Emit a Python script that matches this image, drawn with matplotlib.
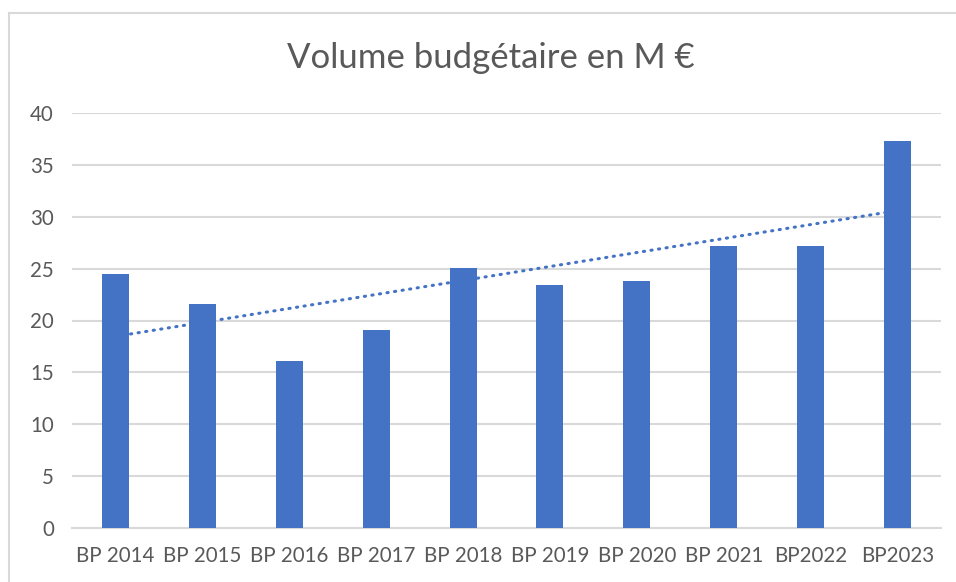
import numpy as np
import matplotlib
matplotlib.use("Agg")
import matplotlib.pyplot as plt
from matplotlib.lines import Line2D

plt.rcParams['font.family'] = ['Lato', 'DejaVu Sans']

# donnees
labels = ["BP 2014", "BP 2015", "BP 2016", "BP 2017", "BP 2018",
          "BP 2019", "BP 2020", "BP 2021", "BP2022", "BP2023"]
volume = [24.5, 21.6, 16.1, 19.1, 25.1, 23.4, 23.8, 27.2, 27.2, 37.3]
titre = "Volume budgétaire en M €"

bleu = '#4472C4'
gris = '#D9D9D9'
texte = '#595959'

fig = plt.figure(figsize=(9.56, 5.82), dpi=100)
ax = fig.add_axes([72/956, 1-528/582, 869/956, 415/582])

x = np.arange(len(volume))
ax.bar(x, volume, width=0.31, color=bleu, zorder=3)

# courbe de tendance lineaire
p = np.polyfit(x, volume, 1)
ax.plot(x, np.polyval(p, x), color=bleu, lw=2.2, zorder=2,
        linestyle=(0, (0.4, 2.1)), dash_capstyle='round')

ax.set_xlim(-0.5, len(volume)-0.5)
ax.set_ylim(0, 40)
ax.set_yticks(range(0, 41, 5))
ax.set_xticks(x)
ax.set_xticklabels(labels)
ax.yaxis.grid(True, color=gris, lw=1.5, zorder=0)
ax.set_axisbelow(True)
for s in ['top', 'right', 'left']:
    ax.spines[s].set_visible(False)
ax.spines['bottom'].set_color(gris)
ax.spines['bottom'].set_linewidth(1.5)
ax.tick_params(axis='both', length=0, labelsize=14.8, colors=texte)
ax.tick_params(axis='y', pad=13)
ax.tick_params(axis='x', pad=13)

fig.text(491/956, 1-58/582, titre, ha='center', va='center',
         fontsize=25, color=texte)

# cadre du graphique
fig.add_artist(Line2D([8.5/956, 1], [1-12.5/582, 1-12.5/582],
                      color=gris, lw=1.5, transform=fig.transFigure))
fig.add_artist(Line2D([8.5/956, 8.5/956], [0, 1-12.5/582],
                      color=gris, lw=1.5, transform=fig.transFigure))

fig.savefig("out.png", dpi=100)
